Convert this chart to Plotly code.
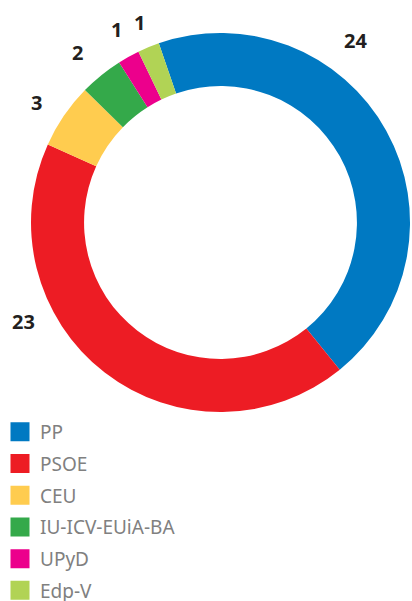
import plotly.graph_objects as go

parties = ["PP", "PSOE", "CEU", "IU-ICV-EUiA-BA", "UPyD", "Edp-V"]
seats = [24, 23, 3, 2, 1, 1]
colors = ["#0079C2", "#ED1C24", "#FFCC4F", "#34A94A", "#EC008C", "#B1D355"]

# label positions (pixels) for value labels
label_x = [355, 23, 36, 77, 116, 139]
label_y = [41, 321, 103, 52, 30, 23]

W, H = 412, 601

fig = go.Figure()
fig.add_trace(go.Pie(
    labels=parties, values=seats, sort=False, direction="clockwise",
    rotation=-19, hole=0.72,
    marker=dict(colors=colors, line=dict(width=0)),
    textinfo="none", hoverinfo="label+value", showlegend=False,
    domain=dict(x=[31 / W, 410 / W], y=[1 - 412 / H, 1 - 33 / H]),
))

for i, (p, c) in enumerate(zip(parties, colors)):
    fig.add_trace(go.Scatter(
        x=[None], y=[None], mode="markers", name=p, legendgroup=p,
        marker=dict(symbol="square", size=16, color=c, line=dict(color=c, width=3)),
    ))

for v, lx, ly in zip(seats, label_x, label_y):
    fig.add_annotation(
        x=lx / W, y=1 - ly / H, xref="paper", yref="paper",
        text=f"<b>{v}</b>", showarrow=False, xanchor="center", yanchor="middle",
        font=dict(family="Noto Sans", size=20, color="#231F20"),
    )

fig.update_layout(
    width=W, height=H, margin=dict(l=0, r=0, t=0, b=0, autoexpand=False),
    paper_bgcolor="white", plot_bgcolor="white",
    xaxis=dict(visible=False), yaxis=dict(visible=False),
    showlegend=True,
    legend=dict(
        x=0, y=1 - 413 / H, xanchor="left", yanchor="top",
        font=dict(family="Noto Sans", size=19, color="#808080"),
        tracegroupgap=4, bgcolor="rgba(0,0,0,0)",
    ),
)

fig.write_html("out.html")
